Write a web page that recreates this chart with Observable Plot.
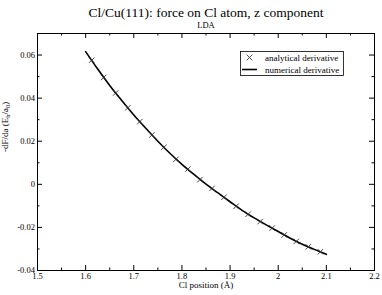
<!DOCTYPE html>
<html>
<head>
<meta charset="utf-8">
<script src="https://cdn.jsdelivr.net/npm/d3@7"></script>
<script src="https://cdn.jsdelivr.net/npm/@observablehq/plot@0.6"></script>
<style>
  html, body { margin: 0; padding: 0; background: #fff; }
  #chart { position: relative; width: 382px; height: 295px; }
  svg { font-family: "Liberation Serif", "Times New Roman", serif; }
</style>
</head>
<body>
<div id="chart"></div>
<script>
// ---- data ----
const title = "Cl/Cu(111): force on Cl atom, z component";
const subtitle = "LDA";
const xLabel = "Cl position (Å)";
const legendLabels = ["analytical derivative", "numerical derivative"];

// analytical derivative (× markers)
const markX = [1.6125, 1.6375, 1.6625, 1.6875, 1.7125, 1.7375, 1.7625, 1.7875, 1.8125, 1.8375,
               1.8625, 1.8875, 1.9125, 1.9375, 1.9625, 1.9875, 2.0125, 2.0375, 2.0625, 2.0875];
const markY = [0.0576, 0.0496, 0.0424, 0.0355, 0.0291, 0.0229, 0.0172, 0.0116, 0.0071, 0.0022,
               -0.0019, -0.0060, -0.0102, -0.0139, -0.0173, -0.0203, -0.0235, -0.0265, -0.0290, -0.0313];

// numerical derivative (line)
const lineX = [1.6, 1.625, 1.65, 1.675, 1.7, 1.725, 1.75, 1.775, 1.8, 1.825, 1.85,
               1.875, 1.9, 1.925, 1.95, 1.975, 2.0, 2.025, 2.05, 2.075, 2.1];
const lineY = [0.0616, 0.0535, 0.0459, 0.0389, 0.0322, 0.0260, 0.0200, 0.0144, 0.0093, 0.0046, 0.0001,
               -0.0040, -0.0081, -0.0121, -0.0156, -0.0188, -0.0219, -0.0250, -0.0278, -0.0302, -0.0325];

// ticks
const xMajor = [1.5, 1.6, 1.7, 1.8, 1.9, 2.0, 2.1, 2.2];
const xMinor = [1.55, 1.65, 1.75, 1.85, 1.95, 2.05, 2.15];
const yMajor = [-0.04, -0.02, 0, 0.02, 0.04, 0.06];
const yMinor = [-0.03, -0.01, 0.01, 0.03, 0.05];

// ---- build ----
const markers = markX.map((x, i) => ({x, y: markY[i]}));
const curve = lineX.map((x, i) => ({x, y: lineY[i]}));

const W = 382, H = 295;
const mL = 37, mR = 8, mT = 33, mB = 25;
const fw = W - mL - mR, fh = H - mT - mB;
const fmt = d => String(+d.toFixed(2));
const YLABEL_PLACEHOLDER = "YLABEL";

const plot = Plot.plot({
  width: W, height: H,
  marginLeft: mL, marginRight: mR, marginTop: mT, marginBottom: mB,
  style: {fontFamily: '"Liberation Serif", "Times New Roman", serif', background: "white", overflow: "visible"},
  x: {domain: [1.5, 2.2], axis: null},
  y: {domain: [-0.04, 0.07], axis: null},
  marks: [
    // inward ticks on all four sides
    Plot.tickX(xMajor, {x: d => d, insetTop: fh - 5, stroke: "black"}),
    Plot.tickX(xMinor, {x: d => d, insetTop: fh - 2.5, stroke: "black"}),
    Plot.tickX(xMajor, {x: d => d, insetBottom: fh - 5, stroke: "black"}),
    Plot.tickX(xMinor, {x: d => d, insetBottom: fh - 2.5, stroke: "black"}),
    Plot.tickY(yMajor, {y: d => d, insetRight: fw - 5, stroke: "black"}),
    Plot.tickY(yMinor, {y: d => d, insetRight: fw - 2.5, stroke: "black"}),
    Plot.tickY(yMajor, {y: d => d, insetLeft: fw - 5, stroke: "black"}),
    Plot.tickY(yMinor, {y: d => d, insetLeft: fw - 2.5, stroke: "black"}),
    // tick labels
    Plot.axisX(xMajor, {anchor: "bottom", tickSize: 0, tickPadding: 2, tickFormat: fmt, fontSize: 8.5, label: null, fill: "black"}),
    Plot.axisY(yMajor, {anchor: "left", tickSize: 0, tickPadding: 2.5, tickFormat: fmt, fontSize: 8.5, label: null, fill: "black"}),
    // data
    Plot.line(curve, {x: "x", y: "y", stroke: "black", strokeWidth: 1.6, curve: "monotone-x"}),
    Plot.dot(markers, {x: "x", y: "y", symbol: "times", r: 2.6, stroke: "#333", strokeWidth: 0.9}),
    Plot.frame({stroke: "black", strokeWidth: 1}),
    // titles
    Plot.text([title], {frameAnchor: "top", dy: -26, fontSize: 13.5, fill: "black"}),
    Plot.text([subtitle], {frameAnchor: "top", dy: -11.5, fontSize: 8.5, fill: "black"}),
    Plot.text([xLabel], {frameAnchor: "bottom", dy: 17, fontSize: 9, fill: "black"}),
    Plot.text([YLABEL_PLACEHOLDER], {frameAnchor: "left", dx: -32, rotate: -90, fontSize: 9, fill: "black"})
  ]
});

document.getElementById("chart").appendChild(plot);

// y label with subscripts
d3.select(plot).selectAll("text").each(function() {
  if (this.textContent === YLABEL_PLACEHOLDER) {
    const t = d3.select(this);
    t.text(null);
    t.append("tspan").text("-dF/da (E");
    t.append("tspan").attr("font-size", "6.5").attr("dy", "2").text("h");
    t.append("tspan").attr("dy", "-2").text("/a");
    t.append("tspan").attr("font-size", "6.5").attr("dy", "2").text("0");
    t.append("tspan").attr("dy", "-2").text(")");
  }
});

// legend box (drawn on top of the plot)
const svg = d3.select(plot);
const lg = svg.append("g").attr("font-size", 9).attr("fill", "black").attr("text-anchor", "start");
lg.append("rect").attr("x", 240.5).attr("y", 51.5).attr("width", 103).attr("height", 24)
  .attr("fill", "white").attr("stroke", "black").attr("stroke-width", 0.8);
lg.append("path").attr("d", d3.symbol(d3.symbolTimes, 22)())
  .attr("transform", "translate(249.5,57.5)").attr("stroke", "#333").attr("stroke-width", 0.9).attr("fill", "none");
lg.append("line").attr("x1", 242).attr("x2", 257).attr("y1", 69.5).attr("y2", 69.5)
  .attr("stroke", "black").attr("stroke-width", 1.6);
lg.append("text").attr("x", 265).attr("y", 60.5).attr("text-anchor", "start").text(legendLabels[0]);
lg.append("text").attr("x", 265).attr("y", 72.5).attr("text-anchor", "start").text(legendLabels[1]);
</script>
</body>
</html>
